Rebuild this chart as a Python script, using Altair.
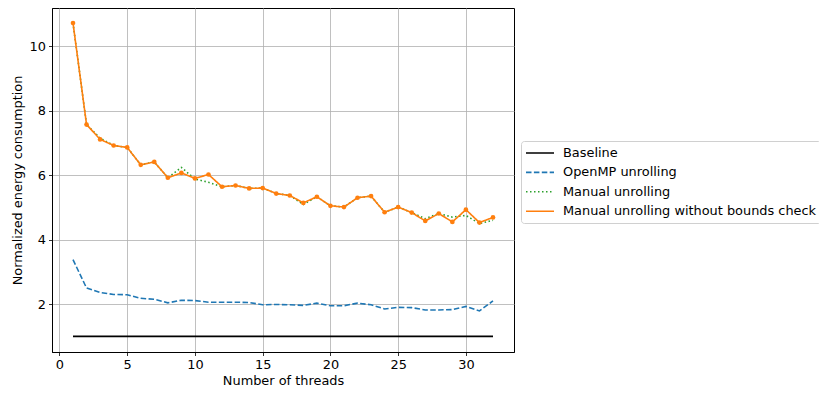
import altair as alt
import pandas as pd

threads = list(range(1, 33))
baseline = [1.0] * 32
openmp = [3.38, 2.50, 2.36, 2.30, 2.29, 2.18, 2.15, 2.04, 2.12, 2.11, 2.06, 2.06, 2.06, 2.05, 1.98, 1.99,
          1.98, 1.96, 2.03, 1.95, 1.95, 2.03, 1.98, 1.85, 1.90, 1.89, 1.82, 1.82, 1.83, 1.93, 1.79, 2.10]
manual = [10.72, 7.57, 7.15, 6.92, 6.86, 6.32, 6.41, 5.92, 6.24, 5.88, 5.78, 5.64, 5.68, 5.59, 5.60, 5.43,
          5.37, 5.09, 5.33, 5.05, 5.01, 5.30, 5.35, 4.85, 5.01, 4.84, 4.65, 4.81, 4.70, 4.75, 4.50, 4.60]
nobounds = [10.72, 7.57, 7.11, 6.92, 6.86, 6.32, 6.41, 5.92, 6.07, 5.90, 6.02, 5.64, 5.68, 5.59, 5.60, 5.43,
            5.37, 5.14, 5.33, 5.05, 5.01, 5.30, 5.35, 4.85, 5.01, 4.84, 4.58, 4.81, 4.55, 4.93, 4.53, 4.69]

series_names = ["Baseline", "OpenMP unrolling", "Manual unrolling", "Manual unrolling without bounds check"]
series_values = [baseline, openmp, manual, nobounds]
colors = ["#000000", "#1f77b4", "#2ca02c", "#ff7f0e"]
dashes = [[1, 0], [5.5, 2.4], [1.5, 2.5], [1, 0]]

rows = []
for order, (name, vals) in enumerate(zip(series_names, series_values)):
    for t, v in zip(threads, vals):
        rows.append({"threads": t, "value": v, "series": name, "order": order})
df = pd.DataFrame(rows)

xscale = alt.Scale(domain=[-0.55, 33.55], nice=False, zero=False)
yscale = alt.Scale(domain=[0.515, 11.185], nice=False, zero=False)

x_enc = alt.X("threads:Q", scale=xscale,
              axis=alt.Axis(title="Number of threads", values=[0, 5, 10, 15, 20, 25, 30], format="d"))
y_enc = alt.Y("value:Q", scale=yscale,
              axis=alt.Axis(title="Normalized energy consumption", values=[2, 4, 6, 8, 10], format="d"))

leg = dict(title=None, orient="none", legendX=469, legendY=133)
color_enc = alt.Color("series:N", scale=alt.Scale(domain=series_names, range=colors),
                      legend=alt.Legend(**leg))
dash_enc = alt.StrokeDash("series:N", scale=alt.Scale(domain=series_names, range=dashes),
                          legend=alt.Legend(**leg))

lines = alt.Chart(df).mark_line(strokeWidth=1.6).encode(
    x=x_enc, y=y_enc, color=color_enc, strokeDash=dash_enc,
    order=alt.Order("order:Q"),
    detail="series:N",
)

points = alt.Chart(df).transform_filter(
    alt.datum.series == "Manual unrolling without bounds check"
).mark_circle(size=22, opacity=1, color="#ff7f0e").encode(
    x=alt.X("threads:Q", scale=xscale),
    y=alt.Y("value:Q", scale=yscale),
)

chart = alt.layer(lines, points).properties(
    width=462, height=344,
    autosize=alt.AutoSizeParams(type="none"),
    padding={"left": 44, "top": 0, "right": 305, "bottom": 42},
).configure(
    font="DejaVu Sans",
).configure_view(
    stroke="#000000", strokeWidth=1,
).configure_axis(
    grid=True, gridColor="#b0b0b0", gridWidth=0.8,
    domainColor="#000000", domainWidth=1,
    tickColor="#000000", tickSize=3.5, tickWidth=0.8,
    labelFont="DejaVu Sans", labelFontSize=12.9, labelColor="#000000", labelPadding=3,
    titleFont="DejaVu Sans", titleFontSize=12.9, titleColor="#000000", titleFontWeight="normal",
).configure_axisX(titlePadding=3).configure_axisY(titlePadding=5).configure_legend(
    labelFont="DejaVu Sans", labelFontSize=12.9, labelColor="#000000", labelLimit=400,
    symbolType="M-2,0H2", symbolSize=196, symbolStrokeWidth=1.6, symbolOffset=7,
    strokeColor="#d0d0d0", fillColor="#ffffff", cornerRadius=3, padding=4,
    rowPadding=4.4, labelOffset=15,
)

chart.save("out.html", embed_options={"renderer": "svg", "actions": False})
